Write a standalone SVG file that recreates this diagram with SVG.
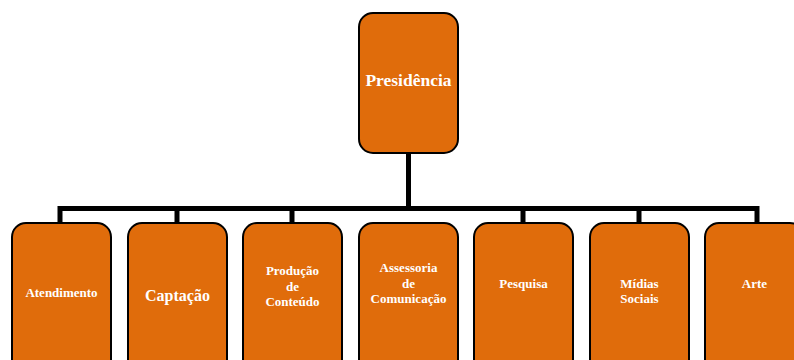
<svg xmlns="http://www.w3.org/2000/svg" width="794" height="360" viewBox="0 0 794 360">
<style>
.box{fill:#E06C0B;stroke:#000;stroke-width:2}
.t{font-family:"Liberation Serif",serif;font-weight:bold;fill:#fff;text-anchor:middle;font-size:13px}
.c{stroke:#000;stroke-width:5;fill:none}
</style>
<rect width="794" height="360" fill="#fff"/>
<g id="connectors">
<path class="c" d="M408.5 153V208.5M60 224V208.5H757V224M177 208.5V224M292 208.5V224M523 208.5V224M639 208.5V224"/>
</g>
<g id="presidencia"><rect class="box" x="359" y="13" width="99" height="140" rx="14"/><text class="t" x="408.5" y="86" style="font-size:17.5px">Presidência</text></g>
<g id="atendimento"><rect class="box" x="12" y="223" width="99" height="150" rx="14"/><text class="t" x="61.5" y="297">Atendimento</text></g>
<g id="captacao"><rect class="box" x="128" y="223" width="99" height="150" rx="14"/><text class="t" x="177.5" y="301" style="font-size:16px">Captação</text></g>
<g id="producao"><rect class="box" x="243" y="223" width="99" height="150" rx="14"/><text class="t" x="292.5" y="275">Produção</text><text class="t" x="292.5" y="291">de</text><text class="t" x="292.5" y="306">Conteúdo</text></g>
<g id="assessoria"><rect class="box" x="359" y="223" width="99" height="150" rx="14"/><text class="t" x="408.5" y="272">Assessoria</text><text class="t" x="408.5" y="288">de</text><text class="t" x="408.5" y="303">Comunicação</text></g>
<g id="pesquisa"><rect class="box" x="474" y="223" width="99" height="150" rx="14"/><text class="t" x="523.5" y="288">Pesquisa</text></g>
<g id="midias"><rect class="box" x="590" y="223" width="99" height="150" rx="14"/><text class="t" x="639.5" y="288">Mídias</text><text class="t" x="639.5" y="303">Sociais</text></g>
<g id="arte"><rect class="box" x="705" y="223" width="99" height="150" rx="14"/><text class="t" x="754.5" y="288">Arte</text></g>
</svg>
